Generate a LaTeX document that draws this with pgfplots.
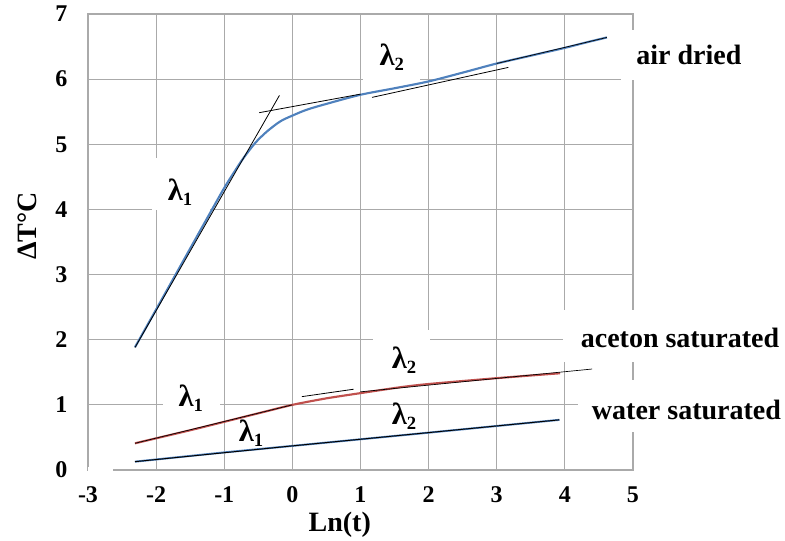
\documentclass[border=0pt]{standalone}
\usepackage{fontspec}
\setmainfont{Liberation Serif}
\usepackage{pgfplots}
\pgfplotsset{compat=1.18}
\definecolor{gridgray}{RGB}{170,170,170}
\definecolor{xlblue}{RGB}{79,129,189}
\definecolor{xlred}{RGB}{192,80,77}
\newcommand{\lam}[1]{{\fontsize{23}{25}\selectfont\bfseries λ\raisebox{-0.35ex}{\fontsize{14}{14}\selectfont #1}}}
\newcommand{\tk}[1]{{\fontsize{18}{20}\selectfont\bfseries #1}}
\begin{document}
\begin{tikzpicture}
\path[use as bounding box] (-66pt,-53.25pt) rectangle (522.75pt,352.5pt);
\begin{axis}[
 at={(0,0)}, anchor=south west,
 scale only axis, width=408.75pt, height=342pt,
 xmin=-3, xmax=5, ymin=0, ymax=7,
 xtick={-3,...,5}, ytick={0,...,7},
 xticklabels={\tk{-3},\tk{-2},\tk{-1},\tk{0},\tk{1},\tk{2},\tk{3},\tk{4},\tk{5}},
 yticklabels={\tk{0},\tk{1},\tk{2},\tk{3},\tk{4},\tk{5},\tk{6},\tk{7}},
 grid=major, major grid style={gridgray, line width=0.9pt},
 axis line style={gridgray, line width=0.9pt},
 major tick length=0pt,
 clip=false,
 yticklabel style={anchor=east, xshift=-12pt},
 xticklabel style={anchor=north, yshift=-9pt},
 xlabel={Ln(t)}, ylabel={ΔT°C},
 label style={font=\fontsize{21}{25}\selectfont\bfseries},
 xlabel style={at={(axis description cs:0.462,-0.12)}, anchor=center},
 ylabel style={at={(axis description cs:-0.112,0.535)}, anchor=center},
]
% white label boxes
\node[fill=white, minimum width=19pt, minimum height=5pt, inner sep=0pt] at (axis cs:-2.815,0) {};
\node[fill=white, minimum width=43.5pt, minimum height=39pt, inner sep=0pt] at (axis cs:-1.635,4.39) {};
\node at (axis cs:-1.65,4.27) {\lam{1}};
\node[fill=white, minimum width=42.75pt, minimum height=37.5pt, inner sep=0pt] at (axis cs:1.455,6.37) {};
\node at (axis cs:1.46,6.34) {\lam{2}};
\node[fill=white, minimum width=123pt, minimum height=37.5pt, inner sep=0pt] at (axis cs:6.027,6.37) {};
\node[font=\fontsize{21}{25}\selectfont\bfseries] at (axis cs:5.82,6.37) {air dried};
\node[fill=white, minimum width=166.5pt, minimum height=39pt, inner sep=0pt] at (axis cs:5.60,2.057) {};
\node[font=\fontsize{21}{25}\selectfont\bfseries] at (axis cs:5.69,2.03) {aceton saturated};
\node[fill=white, minimum width=155pt, minimum height=39pt, inner sep=0pt] at (axis cs:5.71,0.98) {};
\node[font=\fontsize{21}{25}\selectfont\bfseries] at (axis cs:5.785,0.92) {water saturated};
\node[fill=white, minimum width=42.75pt, minimum height=36pt, inner sep=0pt] at (axis cs:-1.48,1.12) {};
\node at (axis cs:-1.49,1.105) {\lam{1}};
\node[fill=white, minimum width=42.75pt, minimum height=41pt, inner sep=0pt] at (axis cs:1.60,1.727) {};
\node at (axis cs:1.64,1.69) {\lam{2}};
\node at (axis cs:-0.607,0.57) {\lam{1}};
\node at (axis cs:1.64,0.83) {\lam{2}};
% air dried
\addplot[xlblue, line width=1.6pt, smooth, tension=0.5] coordinates {
(-2.31,1.885) (-1.9,2.65) (-1.5,3.40) (-1.2,3.96) (-1.0,4.33) (-0.85,4.58)
(-0.72,4.785) (-0.55,5.015) (-0.38,5.19) (-0.18,5.35) (0,5.44) (0.21,5.53)
(0.5,5.62) (1.0,5.76) (1.5,5.86) (2.0,5.965) (2.5,6.10) (3.0,6.24)
(3.5,6.36) (4.0,6.48) (4.3,6.56) (4.617,6.64)};
\addplot[black, line width=0.6pt] coordinates {(-2.31,1.88) (-0.19,5.75)};
\addplot[black, line width=0.6pt] coordinates {(-0.486,5.485) (1.0,5.77)};
\addplot[black, line width=0.6pt] coordinates {(1.17,5.72) (3.17,6.18)};
\addplot[black, line width=0.5pt] coordinates {(3.0,6.24) (4.617,6.64)};
% aceton saturated
\addplot[xlred, line width=1.6pt, smooth, tension=0.4] coordinates {
(-2.31,0.41) (-1.5,0.61) (-1,0.74) (-0.5,0.87) (0,1.0) (0.5,1.1) (1.0,1.18)
(1.58,1.27) (2,1.32) (3,1.41) (3.93,1.485)};
\addplot[black, line width=0.5pt] coordinates {(-2.31,0.41) (0,1.0)};
\addplot[black, line width=0.6pt] coordinates {(0.14,1.126) (0.9,1.24)};
\addplot[black, line width=0.5pt] coordinates {(1.0,1.2) (4.4,1.55)};
% water saturated
\addplot[xlblue, line width=1.5pt] coordinates {
(-2.31,0.128) (-1,0.27) (0,0.37) (2,0.573) (3.92,0.77)};
\addplot[black, line width=0.7pt] coordinates {(-2.31,0.128) (0,0.37) (3.92,0.77)};
\end{axis}
\end{tikzpicture}
\end{document}
